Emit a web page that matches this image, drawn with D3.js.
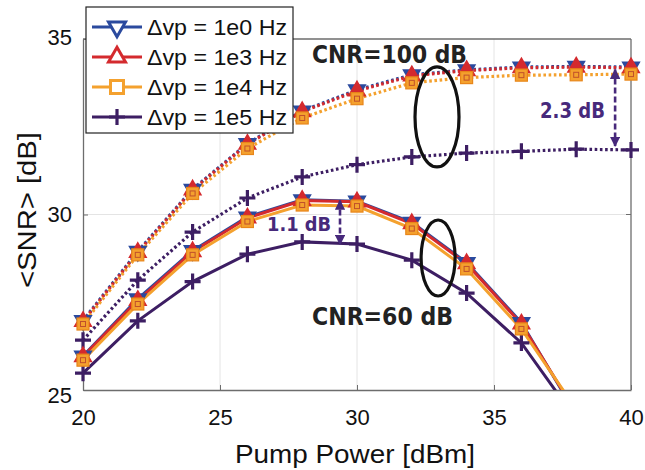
<!DOCTYPE html>
<html>
<head>
<meta charset="utf-8">
<script src="https://cdn.jsdelivr.net/npm/d3@7"></script>
<style>
  body { margin: 0; background: #fff; }
  svg { display: block; }
  text { font-family: "Liberation Sans", Arial, sans-serif; }
  .note { font-family: "DejaVu Sans", sans-serif; font-weight: bold; }
</style>
</head>
<body>
<svg id="chart"></svg>
<script>
// pump power [dBm]
const pump = [20, 22, 24, 26, 28, 30, 32, 34, 36, 38, 40];

// CNR = 100 dB (dotted)
const hi1e0 = [26.98, 28.95, 30.72, 32.02, 32.95, 33.55, 33.98, 34.12, 34.2, 34.22, 34.2];
const hi1e3 = [26.95, 28.92, 30.7, 32.0, 32.93, 33.52, 33.95, 34.1, 34.18, 34.2, 34.18];
const hi1e4 = [26.88, 28.85, 30.6, 31.88, 32.75, 33.3, 33.75, 33.9, 33.97, 33.98, 34.0];
const hi1e5 = [26.42, 28.13, 29.5, 30.47, 31.07, 31.42, 31.64, 31.75, 31.8, 31.86, 31.84];

// CNR = 60 dB (solid)
const lo1e0 = [25.97, 27.6, 28.97, 29.93, 30.42, 30.38, 29.78, 28.63, 26.92, 24.3, 21.6];
const lo1e3 = [25.95, 27.55, 28.94, 29.9, 30.4, 30.36, 29.74, 28.6, 26.88, 24.35, 21.7];
const lo1e4 = [25.85, 27.45, 28.85, 29.8, 30.27, 30.24, 29.6, 28.45, 26.74, 24.45, 21.8];
const lo1e5 = [25.48, 26.97, 28.09, 28.87, 29.22, 29.16, 28.7, 27.76, 26.34, 24.16, 21.5];

const legendLabels = ['\u0394vp = 1e0 Hz', '\u0394vp = 1e3 Hz', '\u0394vp = 1e4 Hz', '\u0394vp = 1e5 Hz'];
const xTicks = [20, 25, 30, 35, 40];
const yTicks = [25, 30, 35];

const width = 645;
const height = 470;
const margin = { top: 39, right: 14, bottom: 80, left: 83 };

const colors = ['#2b4a9e', '#d42a2e', '#f4a12e', '#3d1e63'];
const markers = ['tdown', 'tup', 'square', 'plus'];
const purple = '#47297b';

const svg = d3.select('#chart').attr('width', width).attr('height', height);

const x = d3.scaleLinear().domain([20, 40]).range([margin.left, width - margin.right]);
const y = d3.scaleLinear().domain([25, 35]).range([height - margin.bottom, margin.top]);

// grid
const grid = svg.append('g').attr('stroke', '#e4e4e4').attr('stroke-width', 1);
grid.selectAll('.gx').data(xTicks.slice(1, -1)).enter().append('line')
  .attr('x1', d => x(d)).attr('x2', d => x(d))
  .attr('y1', y(25)).attr('y2', y(35));
grid.selectAll('.gy').data(yTicks.slice(1, -1)).enter().append('line')
  .attr('x1', x(20)).attr('x2', x(40))
  .attr('y1', d => y(d)).attr('y2', d => y(d));

// axes
const axisColor = '#6d6d6d';
const gx = svg.append('g')
  .attr('transform', `translate(0, ${y(25)})`)
  .call(d3.axisBottom(x).tickValues(xTicks).tickSizeInner(-5).tickSizeOuter(0).tickPadding(19));
const gy = svg.append('g')
  .attr('transform', `translate(${x(20)}, 0)`)
  .call(d3.axisLeft(y).tickValues(yTicks).tickSizeInner(-5).tickSizeOuter(0).tickPadding(11));
[gx, gy].forEach(g => {
  g.select('.domain').attr('stroke', axisColor).attr('stroke-width', 1.3);
  g.selectAll('.tick line').attr('stroke', axisColor);
  g.selectAll('.tick text').attr('fill', '#111').style('font-size', '22px')
    .style('font-family', '"Liberation Sans", Arial, sans-serif');
});
gy.selectAll('.tick text').attr('dy', '0.32em');
gy.selectAll('.tick').filter(d => d === 25).select('text').attr('dy', '0.55em');
gy.selectAll('.tick').filter(d => d === 35).select('text').attr('dy', '0.25em');
// top and right box
svg.append('line').attr('x1', x(20)).attr('x2', x(40)).attr('y1', y(35)).attr('y2', y(35))
  .attr('stroke', axisColor).attr('stroke-width', 1.3);
svg.append('line').attr('x1', x(40)).attr('x2', x(40)).attr('y1', y(35)).attr('y2', y(25))
  .attr('stroke', axisColor).attr('stroke-width', 1.3);
svg.selectAll('.tr').data(yTicks.slice(1, -1)).enter().append('line')
  .attr('x1', x(40) - 5).attr('x2', x(40)).attr('y1', d => y(d)).attr('y2', d => y(d))
  .attr('stroke', axisColor);

// axis titles
svg.append('text')
  .attr('x', 355).attr('y', 463)
  .attr('text-anchor', 'middle')
  .attr('textLength', 240).attr('lengthAdjust', 'spacingAndGlyphs')
  .style('font-size', '25px').attr('fill', '#111')
  .text('Pump Power [dBm]');
svg.append('text')
  .attr('transform', 'translate(36, 210) rotate(-90)')
  .attr('text-anchor', 'middle')
  .attr('textLength', 156).attr('lengthAdjust', 'spacingAndGlyphs')
  .style('font-size', '25px').attr('fill', '#111')
  .text('<SNR> [dB]');

// data
svg.append('clipPath').attr('id', 'plotclip').append('rect')
  .attr('x', x(20) - 12).attr('y', y(35) - 12)
  .attr('width', x(40) - x(20) + 24).attr('height', y(25) - y(35) + 12);

const plot = svg.append('g').attr('clip-path', 'url(#plotclip)');

const series = [
  { vals: hi1e5, c: 3, dotted: true },
  { vals: hi1e0, c: 0, dotted: true },
  { vals: hi1e3, c: 1, dotted: true },
  { vals: hi1e4, c: 2, dotted: true },
  { vals: lo1e5, c: 3, dotted: false },
  { vals: lo1e0, c: 0, dotted: false },
  { vals: lo1e3, c: 1, dotted: false },
  { vals: lo1e4, c: 2, dotted: false }
];

const line = d3.line().x((d, i) => x(pump[i])).y(d => y(d));

function drawMarker(g, type, color, big) {
  const area = big ? 125 : 120;
  if (type === 'tdown') {
    g.append('path').attr('d', d3.symbol(d3.symbolTriangle, area)())
      .attr('transform', 'rotate(180)')
      .attr('fill', big ? '#fff' : color).attr('stroke', color).attr('stroke-width', big ? 3 : 1.5);
  } else if (type === 'tup') {
    g.append('path').attr('d', d3.symbol(d3.symbolTriangle, area)())
      .attr('fill', big ? '#fff' : color).attr('stroke', color).attr('stroke-width', big ? 3 : 1.5);
  } else if (type === 'square') {
    const h = big ? 6.5 : 6;
    g.append('rect').attr('x', -h).attr('y', -h).attr('width', 2 * h).attr('height', 2 * h)
      .attr('fill', big ? '#fff' : color).attr('stroke', big ? color : '#e8861a').attr('stroke-width', big ? 3 : 1.2);
    if (!big) {
      g.append('rect').attr('x', -2.5).attr('y', -2.5).attr('width', 5).attr('height', 5)
        .attr('fill', 'none').attr('stroke', '#c0502a').attr('stroke-width', 1);
    }
  } else {
    const h = 8;
    g.append('path').attr('d', `M${-h},0H${h}M0,${-h}V${h}`)
      .attr('stroke', color).attr('stroke-width', 3.2).attr('fill', 'none');
  }
}

series.forEach(s => {
  plot.append('path')
    .datum(s.vals)
    .attr('d', line)
    .attr('fill', 'none')
    .attr('stroke', colors[s.c])
    .attr('stroke-width', s.dotted ? 3.2 : 3)
    .attr('stroke-dasharray', s.dotted ? '2.6,2.6' : null);
});

series.forEach(s => {
  s.vals.forEach((v, i) => {
    const g = plot.append('g').attr('transform', `translate(${x(pump[i])}, ${y(v)})`);
    drawMarker(g, markers[s.c], colors[s.c], false);
  });
});

// annotations
svg.append('ellipse')
  .attr('cx', x(32.92)).attr('cy', y(32.78)).attr('rx', 22).attr('ry', 50)
  .attr('fill', 'none').attr('stroke', '#111').attr('stroke-width', 3.2);
svg.append('ellipse')
  .attr('cx', x(32.96)).attr('cy', y(28.76)).attr('rx', 17).attr('ry', 38)
  .attr('fill', 'none').attr('stroke', '#111').attr('stroke-width', 3.2);

svg.append('text').attr('class', 'note')
  .attr('x', 312).attr('y', 63)
  .attr('textLength', 155).attr('lengthAdjust', 'spacingAndGlyphs')
  .style('font-size', '24px').attr('fill', '#222')
  .text('CNR=100 dB');
svg.append('text').attr('class', 'note')
  .attr('x', 312).attr('y', 325)
  .attr('textLength', 141).attr('lengthAdjust', 'spacingAndGlyphs')
  .style('font-size', '24px').attr('fill', '#222')
  .text('CNR=60 dB');
svg.append('text').attr('class', 'note')
  .attr('x', 540).attr('y', 118)
  .attr('textLength', 65).attr('lengthAdjust', 'spacingAndGlyphs')
  .style('font-size', '21px').attr('fill', purple)
  .text('2.3 dB');
svg.append('text').attr('class', 'note')
  .attr('x', 267).attr('y', 231)
  .attr('textLength', 64).attr('lengthAdjust', 'spacingAndGlyphs')
  .style('font-size', '20px').attr('fill', purple)
  .text('1.1 dB');

const defs = svg.append('defs');
defs.append('marker').attr('id', 'ah')
  .attr('viewBox', '0 0 10 10').attr('refX', 9).attr('refY', 5)
  .attr('markerWidth', 4).attr('markerHeight', 4).attr('orient', 'auto-start-reverse')
  .attr('markerUnits', 'strokeWidth')
  .append('path').attr('d', 'M0,0L10,5L0,10z').attr('fill', purple);

function dArrow(xv, y1, y2) {
  svg.append('line')
    .attr('x1', x(xv)).attr('x2', x(xv)).attr('y1', y(y1)).attr('y2', y(y2))
    .attr('stroke', purple).attr('stroke-width', 2.6)
    .attr('stroke-dasharray', '6,3')
    .attr('marker-start', 'url(#ah)').attr('marker-end', 'url(#ah)');
}
dArrow(39.42, 34.13, 31.95);
dArrow(29.38, 30.4, 29.15);

// legend
const lg = svg.append('g');
lg.append('rect').attr('x', 86).attr('y', 7).attr('width', 207).attr('height', 126)
  .attr('fill', '#fff').attr('stroke', '#222').attr('stroke-width', 1.2);
legendLabels.forEach((lab, i) => {
  const cy = 27 + i * 30;
  lg.append('line').attr('x1', 92).attr('x2', 142).attr('y1', cy).attr('y2', cy)
    .attr('stroke', colors[i]).attr('stroke-width', 3);
  const m = lg.append('g').attr('transform', `translate(117, ${cy})`);
  drawMarker(m, markers[i], colors[i], true);
  lg.append('text').attr('x', 147).attr('y', cy + 8)
    .attr('textLength', 140).attr('lengthAdjust', 'spacingAndGlyphs')
    .style('font-size', '22px').attr('fill', '#111')
    .text(lab);
});
</script>
</body>
</html>
